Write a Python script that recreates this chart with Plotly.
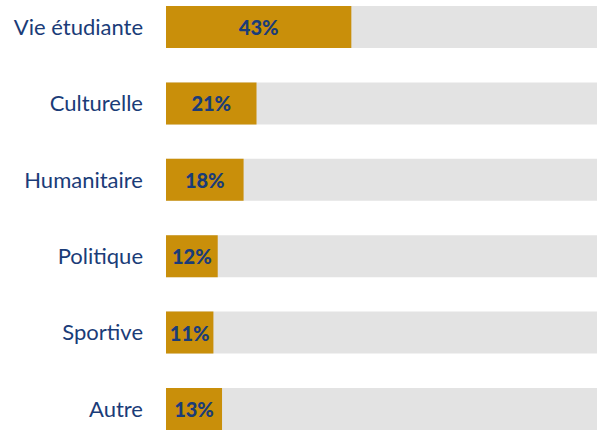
import plotly.graph_objects as go

categories = ["Vie étudiante", "Culturelle", "Humanitaire", "Politique", "Sportive", "Autre"]
values = [43, 21, 18, 12, 11, 13]
totals = [100] * len(categories)
labels = [f"{v}%" for v in values]

fig = go.Figure()
fig.add_trace(go.Bar(
    y=categories, x=totals, orientation="h",
    marker=dict(color="#E3E3E3", line=dict(width=0)),
    hoverinfo="skip", showlegend=False,
))
fig.add_trace(go.Bar(
    y=categories, x=values, orientation="h",
    marker=dict(color="#C98F0A", line=dict(width=0)),
    text=labels, textposition="inside", insidetextanchor="middle",
    textfont=dict(family="Lato", size=20, color="#1A3C78", weight=900),
    textangle=0, cliponaxis=False, showlegend=False,
))
fig.update_layout(
    width=601, height=430,
    margin=dict(l=166, r=4, t=6, b=0),
    barmode="overlay", bargap=0.45,
    plot_bgcolor="white", paper_bgcolor="white",
    font=dict(family="Lato", size=22, color="#1A3C78"),
    uniformtext=dict(minsize=10, mode="show"),
)
fig.update_xaxes(range=[0, 100], visible=False, showgrid=False)
fig.update_yaxes(
    categoryorder="array", categoryarray=categories,
    range=[len(categories) - 1 + 0.275, -0.275],
    showgrid=False, zeroline=False, showline=False, ticks="",
    ticklabelstandoff=22,
    tickfont=dict(family="Lato", size=22, color="#1A3C78"),
)
fig.write_html("out.html", config={"displayModeBar": False})
with open("out.html", encoding="utf-8") as f:
    html = f.read()
html = html.replace("<head>", "<head><style>html,body{margin:0;padding:0;overflow:hidden;}</style>", 1)
with open("out.html", "w", encoding="utf-8") as f:
    f.write(html)
